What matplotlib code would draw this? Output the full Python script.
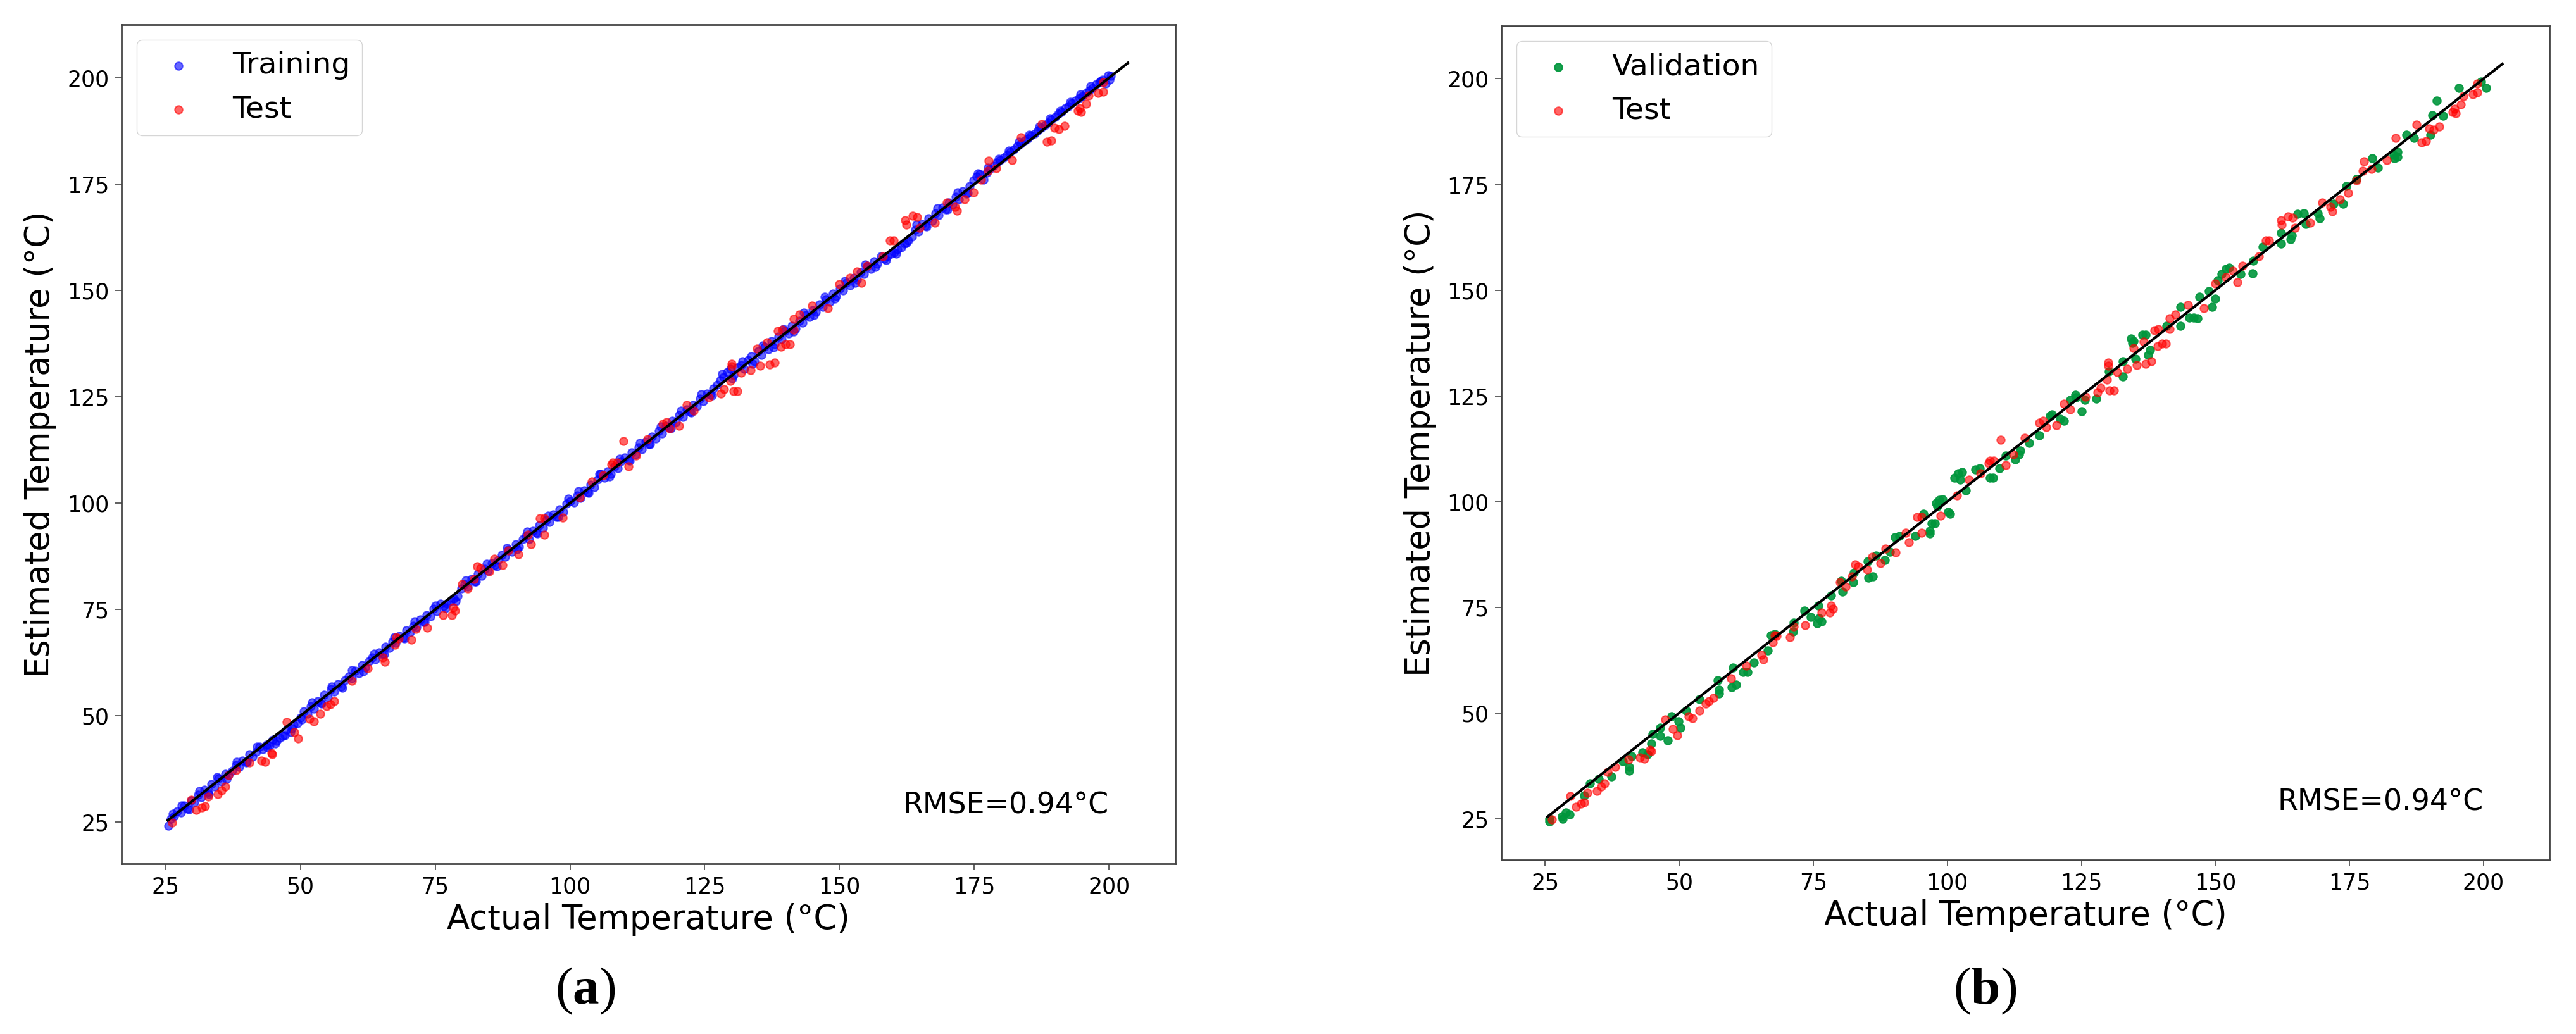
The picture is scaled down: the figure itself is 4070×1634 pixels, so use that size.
import matplotlib
matplotlib.use('Agg')
import matplotlib.pyplot as plt

plt.rcParams['font.family'] = ['DejaVu Sans']
plt.rcParams['mathtext.fontset'] = 'custom'
plt.rcParams['mathtext.rm'] = 'Liberation Serif'
plt.rcParams['mathtext.bf'] = 'Liberation Serif:bold'

# Training set (actual, estimated)
train = [
    (25.5, 24.2), (26.0, 25.8), (26.6, 26.3), (27.1, 27.5), (27.8, 27.2), (28.4, 28.9), (29.0, 28.2),
    (29.7, 30.1), (30.3, 29.6), (31.0, 31.4), (31.6, 30.8), (32.2, 32.6), (32.9, 32.0), (33.5, 33.9),
    (34.1, 33.4), (34.8, 35.3), (35.4, 34.6), (36.0, 36.4), (36.7, 36.1), (37.3, 37.0), (38.0, 38.4),
    (38.6, 37.9), (39.2, 39.5), (39.9, 39.0), (40.5, 40.9), (41.1, 40.3), (41.8, 41.5), (42.4, 42.8),
    (43.0, 42.1), (43.7, 43.2), (44.3, 43.0), (44.9, 44.4), (45.6, 44.1), (46.2, 44.8), (46.8, 45.3),
    (47.5, 46.8), (48.1, 46.2), (48.7, 47.9), (49.4, 48.3), (50.0, 49.6), (50.6, 51.0), (51.3, 50.5),
    (51.9, 52.3), (52.5, 51.7), (53.2, 53.5), (53.8, 53.0), (54.4, 54.9), (55.1, 54.3), (55.7, 56.2),
    (56.3, 55.6), (57.0, 57.4), (57.6, 56.9), (58.2, 58.3), (58.9, 59.3), (59.5, 58.8), (60.1, 60.6),
    (60.8, 60.0), (61.4, 61.9), (62.0, 61.3), (62.7, 62.8), (63.3, 63.7), (63.9, 63.2), (64.6, 64.9),
    (65.2, 64.5), (65.8, 66.2), (66.5, 65.9), (67.1, 67.4), (67.7, 67.1), (68.4, 68.8), (69.0, 68.3),
    (69.6, 70.1), (70.3, 69.6), (70.9, 71.2), (71.5, 70.8), (72.2, 72.6), (72.8, 72.0), (73.4, 73.7),
    (74.1, 73.4), (74.7, 75.1), (75.3, 74.6), (76.0, 76.3), (76.6, 75.8), (77.2, 76.4), (77.9, 77.0),
    (78.5, 77.6), (79.1, 78.2), (79.8, 79.9), (80.4, 80.9), (81.0, 80.3), (81.7, 82.1), (82.3, 81.6),
    (82.9, 83.3), (83.6, 82.9), (84.2, 84.6), (84.8, 84.1), (85.5, 85.9), (86.1, 85.4), (86.7, 86.6),
    (87.4, 87.8), (88.0, 87.3), (88.6, 89.0), (89.3, 88.6), (89.9, 90.3), (90.5, 89.8), (91.2, 91.5),
    (91.8, 92.3), (92.4, 91.6), (93.1, 93.4), (93.7, 93.0), (94.3, 94.8), (95.0, 94.2), (95.6, 96.0),
    (96.2, 95.5), (96.9, 97.3), (97.5, 96.8), (98.1, 98.5), (98.8, 98.0), (99.4, 99.9), (100.0, 100.5),
    (100.7, 100.1), (101.3, 101.8), (101.9, 101.2), (102.6, 103.0), (103.2, 102.5), (103.8, 104.3),
    (104.5, 103.8), (105.1, 105.5), (105.7, 106.8), (106.4, 106.0), (107.0, 107.4), (107.6, 106.9),
    (108.3, 108.7), (108.9, 108.2), (109.5, 109.8), (110.2, 110.7), (110.8, 110.1), (111.4, 111.9),
    (112.1, 111.4), (112.7, 113.1), (113.3, 112.6), (114.0, 114.4), (114.6, 113.9), (115.2, 115.6),
    (115.9, 115.2), (116.5, 116.9), (117.1, 116.4), (117.8, 118.2), (118.4, 117.7), (119.0, 119.4),
    (119.7, 119.0), (120.3, 120.7), (120.9, 120.2), (121.6, 122.0), (122.2, 121.5), (122.8, 123.1),
    (123.5, 122.8), (124.1, 124.5), (124.7, 124.0), (125.4, 125.8), (126.0, 125.5), (126.6, 127.0),
    (127.3, 127.8), (127.9, 128.9), (128.5, 129.6), (129.2, 130.8), (129.8, 131.5), (130.4, 130.0),
    (131.1, 131.9), (131.7, 132.4), (132.3, 131.6), (133.0, 133.7), (133.6, 134.5), (134.2, 133.4),
    (134.9, 135.7), (135.5, 134.8), (136.1, 136.8), (136.8, 136.2), (137.4, 138.1), (138.0, 137.3),
    (138.7, 139.2), (139.3, 138.6), (139.9, 140.5), (140.6, 139.9), (141.2, 141.7), (141.8, 141.1),
    (142.5, 142.9), (143.1, 142.4), (143.7, 144.2), (144.4, 143.7), (145.0, 145.4), (145.6, 144.9),
    (146.3, 146.7), (146.9, 146.1), (147.5, 147.9), (148.2, 147.4), (148.8, 149.2), (149.4, 148.7),
    (150.1, 150.5), (150.7, 150.0), (151.3, 151.8), (152.0, 151.2), (152.6, 153.0), (153.2, 152.5),
    (153.9, 154.3), (154.5, 153.8), (155.1, 155.6), (155.8, 155.0), (156.4, 156.9), (157.0, 156.3),
    (157.7, 158.0), (158.3, 157.4), (158.9, 158.1), (159.6, 158.6), (160.2, 158.9), (160.8, 159.7),
    (161.5, 160.1), (162.1, 161.0), (162.7, 161.8), (163.4, 162.6), (164.0, 164.3), (164.6, 163.9),
    (165.3, 165.7), (165.9, 165.2), (166.5, 166.9), (167.2, 166.4), (167.8, 168.2), (168.4, 167.7),
    (169.1, 169.5), (169.7, 169.0), (170.3, 170.7), (171.0, 170.2), (171.6, 172.0), (172.2, 171.5),
    (172.9, 173.4), (173.5, 172.8), (174.1, 174.6), (174.8, 175.9), (175.4, 176.8), (176.0, 177.4),
    (176.7, 176.1), (177.3, 177.7), (177.9, 178.6), (178.6, 179.3), (179.2, 180.1), (179.8, 180.7),
    (180.5, 181.3), (181.1, 181.8), (181.7, 182.6), (182.4, 183.2), (183.0, 183.9), (183.6, 184.5),
    (184.3, 185.2), (184.9, 185.7), (185.5, 186.4), (186.2, 186.9), (186.8, 187.7), (187.4, 188.2),
    (188.1, 188.9), (188.7, 189.4), (189.3, 190.2), (190.0, 190.8), (190.6, 191.5), (191.2, 192.0),
    (191.9, 192.8), (192.5, 193.3), (193.1, 194.0), (193.8, 194.6), (194.4, 195.3), (195.0, 195.7),
    (195.7, 196.4), (196.3, 197.0), (196.9, 197.6), (197.6, 198.5), (198.2, 198.9), (198.8, 199.6),
    (199.4, 198.7), (200.1, 199.5), (200.3, 200.4),
    # looser points around the band
    (26.3, 27.0), (27.9, 28.9), (29.4, 28.0), (31.2, 32.3), (33.0, 31.6), (34.5, 35.6), (36.3, 35.2),
    (38.2, 39.1), (40.0, 39.1), (41.9, 42.8), (43.8, 42.6), (45.3, 43.5), (47.1, 45.4), (48.4, 47.0),
    (50.3, 49.1), (52.1, 53.1), (53.9, 52.8), (55.8, 56.8), (57.8, 56.6), (59.6, 60.7), (61.6, 60.4),
    (63.6, 64.6), (65.5, 64.4), (67.4, 68.4), (69.3, 68.2), (71.2, 72.2), (73.1, 72.1), (75.0, 75.9),
    (76.9, 75.3), (78.8, 76.9), (80.7, 81.9), (82.6, 81.5), (84.5, 85.7), (86.4, 85.2), (88.3, 89.4),
    (90.2, 89.1), (92.1, 93.3), (94.0, 92.9), (95.9, 97.1), (97.8, 96.7), (99.7, 101.0), (101.6, 102.9),
    (103.5, 102.4), (105.4, 106.9), (107.3, 106.2), (109.2, 110.4), (111.1, 110.0), (113.0, 114.2),
    (114.9, 113.8), (116.8, 118.0), (118.7, 117.6), (120.6, 121.8), (122.5, 121.3), (124.4, 125.6),
    (126.3, 125.3), (128.2, 130.3), (130.1, 129.3), (132.0, 133.4), (133.9, 132.8), (135.8, 137.1),
    (137.7, 136.6), (139.6, 141.0), (141.5, 140.3), (143.4, 144.8), (145.3, 144.2), (147.2, 148.5),
    (149.1, 148.0), (151.0, 152.3), (152.9, 151.8), (154.8, 156.1), (156.7, 155.5), (158.6, 157.2),
    (160.5, 158.6), (162.4, 161.2), (164.3, 165.5), (166.2, 165.1), (168.1, 169.3), (170.0, 169.0),
    (171.9, 173.1), (173.8, 172.9), (175.7, 177.5), (177.6, 178.9), (179.5, 181.0), (181.4, 182.9),
    (183.3, 184.9), (185.2, 186.6), (187.1, 188.6), (189.0, 190.5), (190.9, 192.3), (192.8, 194.3),
    (194.7, 196.1), (196.6, 198.0), (198.5, 199.2), (199.8, 200.6),
]

# Test set (shared by both panels)
test = [
    (26.2, 24.8), (29.7, 30.3), (30.7, 27.8), (31.7, 28.5), (32.3, 28.8), (32.9, 31.0), (34.6, 31.5),
    (35.4, 32.5), (36.0, 33.3), (36.6, 36.0), (38.0, 37.2), (40.5, 39.0), (42.7, 39.5), (43.5, 39.2),
    (44.6, 41.2), (44.8, 41.0), (47.4, 48.5), (48.8, 46.2), (49.6, 44.7), (51.7, 49.2), (52.5, 48.7),
    (53.7, 50.5), (54.9, 52.2), (55.5, 52.7), (56.3, 53.5), (59.6, 58.2), (62.5, 61.2), (65.3, 63.7),
    (65.7, 62.7), (67.5, 66.7), (68.2, 68.2), (67.8, 68.4), (70.6, 67.9), (71.4, 70.4), (73.5, 70.7),
    (76.5, 73.7), (78.3, 75.4), (78.7, 74.7), (78.1, 73.7), (80.0, 80.9), (81.0, 79.9), (82.2, 82.2),
    (82.8, 85.1), (83.4, 84.7), (85.0, 83.9), (86.0, 86.9), (87.5, 85.4), (88.5, 88.9), (90.4, 87.9),
    (92.2, 92.6), (92.8, 90.4), (94.4, 96.4), (95.2, 96.4), (95.2, 92.6), (98.7, 96.6), (101.8, 101.4),
    (104.0, 105.1), (106.2, 106.6), (107.9, 109.6), (108.7, 109.6), (107.7, 109.1), (109.9, 114.6),
    (110.9, 108.6), (112.3, 111.1), (114.4, 115.1), (117.2, 118.6), (117.9, 119.1), (118.5, 117.6),
    (120.3, 118.1), (121.7, 123.1), (122.9, 121.8), (125.8, 124.8), (128.0, 125.8), (128.6, 126.8),
    (129.8, 128.8), (130.0, 132.8), (130.0, 132.1), (130.3, 126.3), (131.1, 126.3), (131.7, 130.6),
    (133.5, 131.3), (134.7, 136.3), (135.3, 132.3), (136.6, 137.8), (137.0, 132.6), (138.0, 133.1),
    (138.6, 140.5), (139.4, 140.8), (139.2, 136.8), (140.0, 137.3), (140.8, 137.3), (141.5, 143.3),
    (142.5, 144.3), (141.5, 140.8), (144.9, 146.5), (147.8, 145.8), (150.0, 151.5), (152.0, 153.0),
    (153.3, 154.5), (154.1, 151.8), (155.1, 155.8), (158.1, 158.0), (159.4, 161.8), (160.0, 161.8),
    (162.2, 166.5), (162.4, 165.5), (163.6, 167.5), (164.4, 167.2), (164.9, 164.7), (167.7, 166.0),
    (169.9, 170.7), (171.4, 169.7), (171.8, 168.7), (173.2, 171.5), (174.8, 173.0), (176.3, 176.0),
    (177.5, 178.2), (177.7, 180.5), (179.1, 178.7), (182.0, 180.7), (183.6, 186.0), (187.5, 189.2),
    (188.5, 185.0), (189.3, 185.2), (189.9, 188.2), (190.7, 188.0), (191.7, 188.7), (194.2, 192.2),
    (194.8, 191.9), (194.6, 192.9), (195.8, 193.9), (196.2, 195.9), (198.0, 196.4), (198.9, 196.8),
    (198.9, 198.9),
]

# Validation set
valid = [
    (25.8, 25.0), (25.8, 24.4), (28.1, 25.5), (28.3, 25.0), (29.5, 26.0), (28.9, 26.5), (32.3, 30.5),
    (33.3, 33.3), (35.0, 34.3), (37.4, 35.0), (39.5, 38.5), (40.7, 37.2), (40.7, 36.3), (41.1, 39.7),
    (43.1, 40.7), (44.1, 40.2), (45.0, 45.0), (44.8, 42.7), (46.4, 46.5), (46.4, 44.5), (47.8, 43.5),
    (48.6, 49.2), (49.8, 48.0), (50.2, 46.5), (51.3, 50.5), (53.7, 53.2), (57.2, 57.7), (57.4, 55.5),
    (57.4, 54.5), (60.0, 60.7), (59.8, 56.0), (60.6, 56.7), (61.9, 59.7), (62.7, 59.7), (63.9, 61.9),
    (66.5, 64.7), (67.1, 68.4), (67.8, 68.7), (71.2, 69.2), (71.4, 71.4), (73.4, 74.2), (74.5, 72.7),
    (75.7, 71.2), (76.5, 71.7), (76.1, 72.4), (75.9, 75.4), (78.3, 77.7), (80.4, 78.7), (80.2, 81.2),
    (82.4, 80.9), (82.6, 83.2), (85.1, 85.9), (85.3, 81.9), (86.1, 82.3), (86.7, 87.2), (88.3, 86.2),
    (89.3, 88.1), (90.2, 91.6), (91.0, 91.9), (94.0, 91.9), (95.6, 97.1), (96.7, 92.4), (96.7, 93.1),
    (97.1, 94.9), (97.7, 94.9), (97.9, 99.6), (98.5, 100.4), (99.1, 100.6), (98.1, 98.9), (100.1, 97.6),
    (100.5, 97.1), (101.3, 105.6), (102.0, 106.6), (102.8, 106.9), (102.4, 105.1), (103.4, 102.6),
    (105.2, 107.6), (106.0, 107.9), (107.9, 105.6), (108.5, 105.6), (109.7, 107.9), (110.9, 110.9),
    (112.7, 109.9), (113.4, 111.1), (113.6, 112.1), (115.2, 113.8), (117.2, 115.6), (119.1, 120.3),
    (119.5, 120.6), (121.1, 119.6), (121.7, 119.1), (122.9, 124.1), (123.9, 125.3), (124.0, 124.6),
    (125.0, 121.3), (125.6, 124.1), (127.8, 124.3), (130.1, 130.8), (132.7, 133.1), (132.7, 129.6),
    (134.3, 138.5), (134.7, 138.0), (134.5, 137.5), (135.1, 133.8), (136.4, 139.5), (137.0, 139.5),
    (137.4, 134.6), (137.8, 135.8), (140.9, 141.5), (143.5, 146.0), (143.5, 141.5), (145.1, 143.5),
    (145.9, 143.5), (146.7, 143.3), (147.0, 148.5), (148.8, 149.8), (149.4, 146.0), (150.0, 148.0),
    (150.4, 152.3), (151.2, 153.8), (152.0, 155.0), (152.6, 155.3), (154.7, 153.8), (156.9, 154.0),
    (157.1, 157.0), (158.8, 160.3), (162.2, 161.0), (162.2, 163.5), (164.0, 162.0), (164.2, 163.0),
    (165.3, 168.0), (166.5, 168.2), (166.9, 165.7), (169.1, 168.2), (169.5, 167.0), (172.0, 170.5),
    (173.8, 170.5), (174.4, 174.7), (176.3, 176.2), (179.3, 181.2), (180.3, 179.0), (183.2, 182.0),
    (184.0, 182.7), (183.4, 181.2), (184.0, 181.5), (185.6, 186.7), (187.0, 186.0), (190.1, 186.7),
    (190.5, 191.4), (191.3, 194.9), (192.5, 191.2), (195.4, 197.8), (199.5, 199.4), (200.5, 197.8),
]

# ideal line end points
ideal = [25.4, 203.5]
rmse_text = 'RMSE=0.94°C'

tick_vals = [25, 50, 75, 100, 125, 150, 175, 200]

fig = plt.figure(figsize=(40.70, 16.34), dpi=100)
ax1 = fig.add_axes([0.04717, 0.16463, 0.40909, 0.81151])
ax2 = fig.add_axes([0.58280, 0.16830, 0.40688, 0.80661])

panels = [
    (ax1, train, 'Training', 'blue', 0.6, '$(\\mathbf{a})$', 925),
    (ax2, valid, 'Validation', '#00963c', 0.9, '$(\\mathbf{b})$', 3136),
]

for ax, first, name, col, alp, tag, tag_x in panels:
    ax.scatter([p[0] for p in first], [p[1] for p in first], s=80, color=col,
               alpha=alp, linewidths=1.5, label=name)
    ax.scatter([p[0] for p in test], [p[1] for p in test], s=80, color='red',
               alpha=0.6, linewidths=1.5, label='Test')
    ax.plot(ideal, ideal, color='black', lw=3)

    ax.set_xlim(16.8, 212.3)
    ax.set_ylim(15.2, 212.5)
    ax.set_xticks(tick_vals)
    ax.set_yticks(tick_vals)
    ax.tick_params(labelsize=25, length=7, width=1.2, pad=7, color='#444444')
    for sp in ax.spines.values():
        sp.set_linewidth(2)
        sp.set_color('#444444')

    ax.set_xlabel('Actual Temperature (°C)', fontsize=38, labelpad=6)
    ax.set_ylabel('Estimated Temperature (°C)', fontsize=38, labelpad=12)
    ax.legend(loc='upper left', fontsize=34)
    ax.text(200, 27, rmse_text, fontsize=33, ha='right', va='baseline')

    fig.text(tag_x / 4070, 1 - 1566 / 1634, tag, fontsize=60, ha='center', va='center')

fig.savefig('out.png', dpi=100)
